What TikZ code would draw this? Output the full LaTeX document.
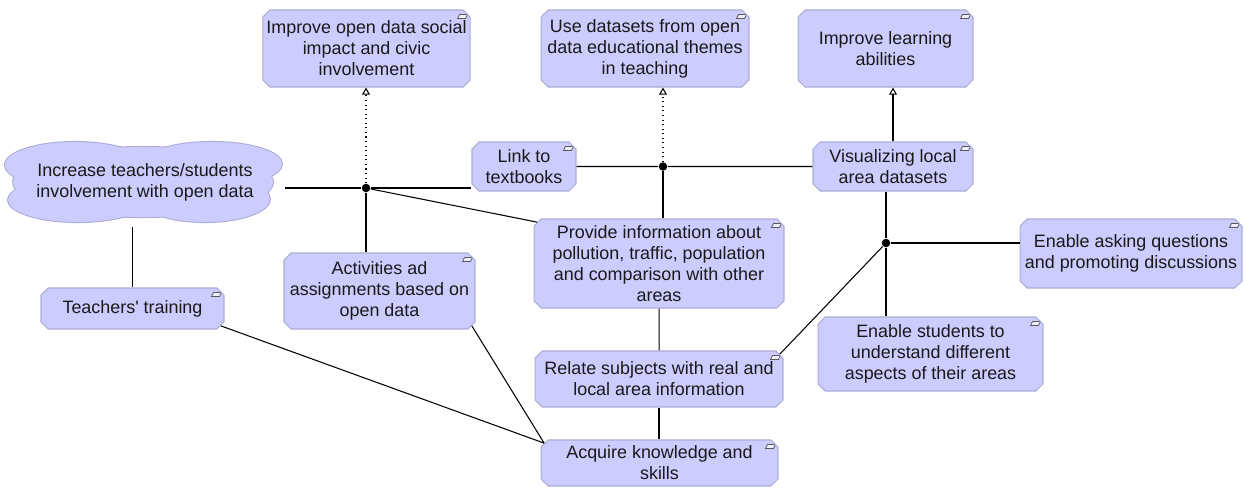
\documentclass[tikz,border=0pt]{standalone}
\usepackage{fontspec}
\setmainfont{Liberation Sans}
\usetikzlibrary{positioning, arrows.meta, shapes.misc}

\definecolor{goalfill}{RGB}{204,204,255}
\definecolor{goalline}{RGB}{172,172,214}

\tikzset{
  goal/.style={chamfered rectangle, chamfered rectangle angle=45,
    chamfered rectangle sep=0.07cm,
    draw=goalline, fill=goalfill, align=center, inner sep=0pt,
    font=\fontsize{10.2}{11.95}\selectfont, text=black!90,
    path picture={
      \draw[black!65, fill=white!70!goalfill, line width=0.4pt]
        ([shift={(-0.21cm,-0.09cm)}]path picture bounding box.north east)
        -- ([shift={(-0.05cm,-0.09cm)}]path picture bounding box.north east)
        -- ([shift={(-0.09cm,-0.17cm)}]path picture bounding box.north east)
        -- ([shift={(-0.25cm,-0.17cm)}]path picture bounding box.north east)
        -- cycle;
    }},
  driver/.style={align=center, inner sep=0pt,
    font=\fontsize{10.2}{11.95}\selectfont, text=black!90},
  junction/.style={circle, fill=black, inner sep=0pt, minimum size=0.17cm},
  realizes/.style={-{Triangle[open, length=4pt, width=4.4pt]}},
}

\begin{document}
\begin{tikzpicture}[x=0.02cm, y=-0.02cm, line width=0.6pt]
  \useasboundingbox (0,0) rectangle (1244,488);

  % goals on top
  \node[goal, minimum width=4.14cm, minimum height=1.54cm] (impact) at (366.5,48.5)
    {Improve open data social\\impact and civic\\involvement};
  \node[goal, minimum width=4.16cm, minimum height=1.54cm] (themes) at (645,48.5)
    {Use datasets from open\\data educational themes\\in teaching};
  \node[goal, minimum width=3.50cm, minimum height=1.54cm] (learning) at (885.5,48.5)
    {Improve learning\\abilities};

  % lobed driver shape: outline first, then the fill over the inner half
  \foreach \pos/\rx/\ry in {{(75,165)}/1.40/0.46, {(212,164)}/1.40/0.44,
                            {(78,200)}/1.40/0.44, {(205,199)}/1.30/0.46,
                            {(143,182)}/2.60/0.70}
    \draw[goalline, line width=1.2pt] \pos ellipse [x radius=\rx cm, y radius=\ry cm];
  \foreach \pos/\rx/\ry in {{(75,165)}/1.40/0.46, {(212,164)}/1.40/0.44,
                            {(78,200)}/1.40/0.44, {(205,199)}/1.30/0.46,
                            {(143,182)}/2.60/0.70}
    \fill[goalfill] \pos ellipse [x radius=\rx cm, y radius=\ry cm];

  % middle row
  \node[driver, minimum width=5.56cm, minimum height=1.6cm] (involve) at (145,182)
    {Increase teachers/students\\involvement with open data};
  \node[goal, minimum width=2.08cm, minimum height=0.98cm] (textbooks) at (524,166.5)
    {Link to\\textbooks};
  \node[goal, minimum width=3.20cm, minimum height=0.98cm] (visual) at (893,166.5)
    {Visualizing local\\area datasets};
  \node[goal, minimum width=5.00cm, minimum height=1.78cm] (info) at (659,263.5)
    {Provide information about\\pollution, traffic, population\\and comparison with other\\areas};
  \node[goal, minimum width=4.44cm, minimum height=1.38cm] (questions) at (1131,253.5)
    {Enable asking questions\\and promoting discussions};

  % lower row
  \node[goal, minimum width=3.82cm, minimum height=1.52cm] (tasks) at (379.5,291)
    {Activities ad\\assignments based on\\open data};
  \node[goal, minimum width=3.66cm, minimum height=0.82cm] (training) at (132.5,308.5)
    {Teachers\textquotesingle{} training};
  \node[goal, minimum width=4.50cm, minimum height=1.48cm] (aspects) at (930.5,354)
    {Enable students to\\understand different\\aspects of their areas};
  \node[goal, minimum width=4.96cm, minimum height=1.12cm] (relate) at (659,379)
    {Relate subjects with real and\\local area information};
  \node[goal, minimum width=4.74cm, minimum height=0.92cm] (acquire) at (659.5,463)
    {Acquire knowledge and\\skills};

  % and-junctions
  \node[junction] (j1) at (366,188) {};
  \node[junction] (j2) at (663,166.5) {};
  \node[junction] (j3) at (886,243) {};

  \path[draw]
    (j1 -| involve.east) edge (j1)
    (j1) edge (j1 -| textbooks.west)
    (j1) edge[dotted, realizes] (j1 |- impact.south)
    (j1) edge (j1 |- tasks.north)
    (j1) edge (info.north west)
    (textbooks) edge (j2)
    (j2) edge (visual)
    (j2) edge[dotted, realizes] (j2 |- themes.south)
    (j2) edge (j2 |- info.north)
    (visual.north) edge[realizes] (visual.north |- learning.south)
    (j3 |- visual.south) edge (j3)
    (j3) edge (j3 -| questions.west)
    (j3) edge (j3 |- aspects.north)
    (j3) edge (relate.north east)
    (info) edge (relate)
    (relate.south) edge (relate.south |- acquire.north)
    (training.north) edge ([yshift=-0.08cm]training.north |- involve.south)
    (training.south east) edge (acquire.north west)
    (tasks.south east) edge (acquire.north west)
  ;
\end{tikzpicture}
\end{document}
